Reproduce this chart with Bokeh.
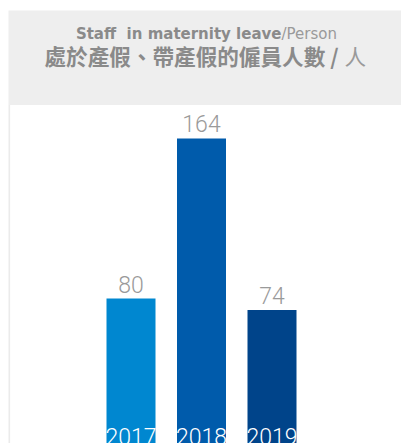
from bokeh.plotting import figure
from bokeh.models import ColumnDataSource, Range1d, LabelSet, Label, BoxAnnotation
from bokeh.core.properties import value
from bokeh.embed import file_html
from bokeh.resources import INLINE

# ---- data ----
years = ["2017", "2018", "2019"]
counts = [80, 164, 74]
bar_colors = ["#0087d0", "#005bab", "#00448a"]
title_en_bold = "Staff  in maternity leave"
title_en_unit = "/Person"
title_zh_bold = "處於產假、帶產假的僱員人數 /"
title_zh_unit = "人"

# ---- layout constants ----
W, H = 401, 443
PX = 70.5            # pixels per category step
X0 = -130.5 / PX     # first bar centre at 130.5 px
S = 1.906            # pixels per person
BASE = 450.5         # baseline pixel (from top)

def fx(px):
    return X0 + px / PX

def fy(py):
    return (BASE - py) / S

src = ColumnDataSource(dict(
    x=list(range(len(years))),
    v=counts,
    year=years,
    label=[str(c) for c in counts],
    color=bar_colors,
))

p = figure(width=W, height=H,
           x_range=Range1d(X0, X0 + W / PX),
           y_range=Range1d((BASE - H) / S, BASE / S),
           output_backend="svg", toolbar_location=None,
           x_axis_location=None, y_axis_location=None,
           min_border=0, outline_line_color=None)
p.grid.visible = False

# header band
p.add_layout(BoxAnnotation(left=fx(8), top=fy(10), bottom=fy(104.5),
                           fill_color="#eeeeee", fill_alpha=1,
                           line_color=None, level="underlay"))
# faint left border
p.add_layout(BoxAnnotation(left=fx(8), right=fx(9.6), top=fy(104.5),
                           fill_color="#ebebeb", fill_alpha=1,
                           line_color=None, level="underlay"))

p.vbar(x="x", top="v", bottom=0, width=49 / PX, fill_color="color",
       line_color=None, source=src)

num_font = value("Roboto Light, Roboto")
p.add_layout(LabelSet(x="x", y="v", text="label", source=src,
                      text_align="center", text_baseline="alphabetic",
                      y_offset=6, text_font=num_font, text_font_size="23px",
                      text_color="#9a9a9a"))
p.add_layout(LabelSet(x="x", y=0, text="year", source=src,
                      text_align="center", text_baseline="alphabetic",
                      y_offset=6.5, text_font=num_font, text_font_size="23px",
                      text_color="#ffffff"))

# titles
split1 = fx(281)
p.add_layout(Label(x=split1, y=fy(33),
                   text=title_en_bold.replace("  ", "\u00a0 "),
                   text_align="right", text_baseline="alphabetic",
                   text_font="DejaVu Sans", text_font_style="bold",
                   text_font_size="15px", text_color="#8a8a8a"))
p.add_layout(Label(x=split1, y=fy(33), text=title_en_unit, text_align="left",
                   text_baseline="alphabetic", text_font="DejaVu Sans",
                   text_font_size="15px", text_color="#9a9a9a"))
p.add_layout(Label(x=fx(338), y=fy(55), text=title_zh_bold, text_align="right",
                   text_baseline="middle", text_font="Noto Sans CJK TC",
                   text_font_style="bold", text_font_size="21.6px",
                   text_color="#8a8a8a"))
p.add_layout(Label(x=fx(344), y=fy(55), text=title_zh_unit, text_align="left",
                   text_baseline="middle", text_font="Noto Sans CJK TC",
                   text_font_size="21.6px", text_color="#9a9a9a"))

open("out.html", "w").write(file_html(p, INLINE))
